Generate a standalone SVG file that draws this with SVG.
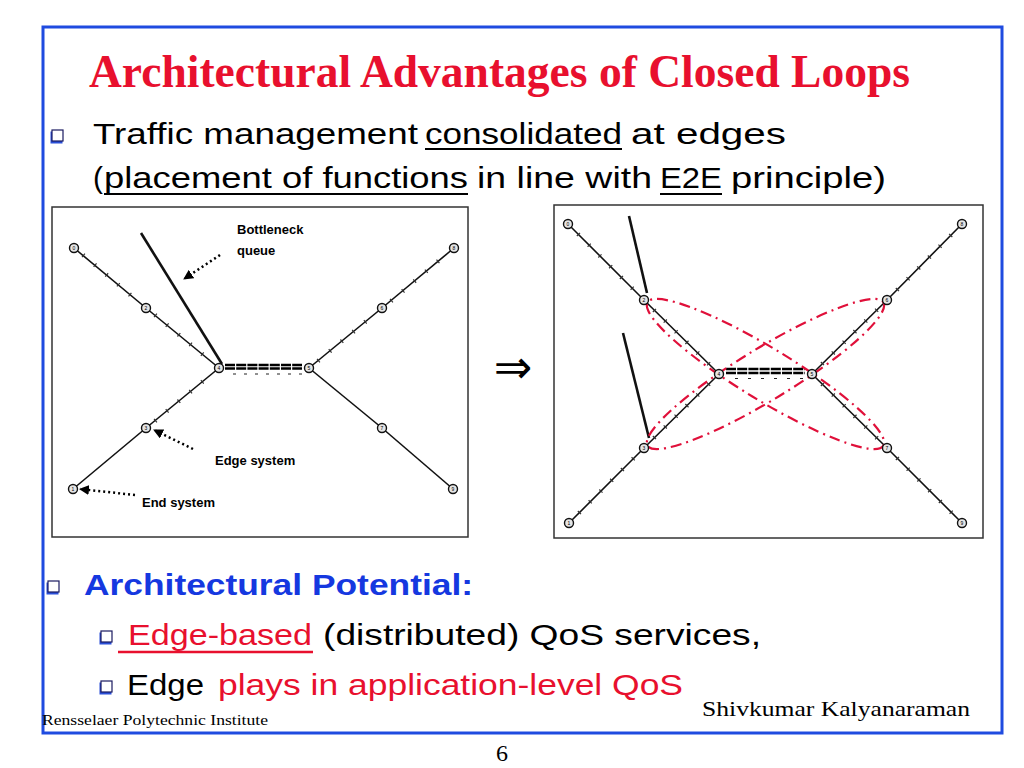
<svg xmlns="http://www.w3.org/2000/svg" width="1024" height="768" viewBox="0 0 1024 768">
<defs>
<style>
.frame{fill:none;stroke:#1F4BE0;stroke-width:3}
.box{fill:#fff;stroke:#333;stroke-width:1.5}
.title{font-family:"Liberation Serif",serif;font-weight:bold;font-size:46px;fill:#E8102E}
.body{font-family:"Liberation Sans","DejaVu Sans",sans-serif;font-size:30px;fill:#000}
.red{fill:#E8102E}
.blue{fill:#1538E0;font-weight:bold}
.ul{stroke:#000;stroke-width:2}
.ulr{stroke:#E8102E;stroke-width:2.5}
.lbl{font-family:"Liberation Sans","DejaVu Sans",sans-serif;font-weight:bold;font-size:13px;fill:#000}
.link{stroke:#111;stroke-width:1.6;fill:none}
.tick{stroke:#333;stroke-width:4.5;stroke-dasharray:1.2 14;fill:none}
.bq{stroke:#111;stroke-width:2.6;fill:none}
.node circle{fill:#e6e6e6;stroke:#111;stroke-width:1.4}
.node text{font-family:"Liberation Sans",sans-serif;font-size:5px;fill:#000;text-anchor:middle}
.dot{stroke:#000;stroke-width:2.5;stroke-dasharray:2 3;fill:none}
.loop{fill:none;stroke:#E0103A;stroke-width:2.2;stroke-dasharray:11 5 2 5}
.dbl{stroke:#000;stroke-width:2.6;stroke-dasharray:10 1.2}
.ser{font-family:"Liberation Serif",serif;fill:#000}
</style>
<marker id="ah" viewBox="0 0 10 10" refX="9" refY="5" markerWidth="4" markerHeight="4" orient="auto">
<path d="M0,0 L10,5 L0,10 z" fill="#000"/>
</marker>
<g id="bul">
<rect x="-1.5" y="1.5" width="12" height="12" fill="#2a4fd8"/>
<rect x="0" y="0" width="11" height="11" fill="#fff" stroke="#1a1a60" stroke-width="1.2"/>
</g>
</defs>
<rect width="1024" height="768" fill="#fff"/>
<rect class="frame" x="43" y="27" width="959" height="706"/>

<text class="title" x="89" y="87" textLength="821" lengthAdjust="spacingAndGlyphs">Architectural Advantages of Closed Loops</text>

<use href="#bul" x="52" y="130"/>
<text class="body" x="93" y="144" textLength="325" lengthAdjust="spacingAndGlyphs">Traffic management</text>
<text class="body" x="425" y="144" textLength="197" lengthAdjust="spacingAndGlyphs">consolidated</text>
<line class="ul" x1="425" y1="149" x2="622" y2="149"/>
<text class="body" x="631" y="144" textLength="155" lengthAdjust="spacingAndGlyphs">at edges</text>
<text class="body" x="93" y="188">(</text>
<text class="body" x="104" y="188" textLength="364" lengthAdjust="spacingAndGlyphs">placement of functions</text>
<line class="ul" x1="104" y1="194" x2="468" y2="194"/>
<text class="body" x="477" y="188" textLength="175" lengthAdjust="spacingAndGlyphs">in line with</text>
<text class="body" x="660" y="188" textLength="62" lengthAdjust="spacingAndGlyphs">E2E</text>
<line class="ul" x1="660" y1="194" x2="722" y2="194"/>
<text class="body" x="731" y="188" textLength="155" lengthAdjust="spacingAndGlyphs">principle)</text>

<g id="left-diagram">
<rect class="box" x="52" y="207" width="416" height="330"/>
<g id="left-connectors">
<line class="link" x1="74" y1="248" x2="146" y2="308"/>
<line class="tick" x1="83" y1="255" x2="140" y2="303"/>
<line class="link" x1="146" y1="308" x2="219" y2="368"/>
<line class="tick" x1="155" y1="315" x2="213" y2="363"/>
<line class="link" x1="146" y1="428" x2="219" y2="368"/>
<line class="tick" x1="155" y1="421" x2="213" y2="373"/>
<line class="link" x1="73" y1="489" x2="146" y2="428"/>
<line class="link" x1="309" y1="368" x2="382" y2="308"/>
<line class="tick" x1="318" y1="361" x2="376" y2="313"/>
<line class="link" x1="382" y1="308" x2="454" y2="248"/>
<line class="tick" x1="391" y1="301" x2="448" y2="253"/>
<line class="link" x1="309" y1="368" x2="382" y2="428"/>
<line class="link" x1="382" y1="428" x2="453" y2="489"/>
<line class="bq" x1="141" y1="233" x2="222" y2="364"/>
<line class="dbl" x1="225" y1="365" x2="302" y2="365"/>
<line class="dbl" x1="225" y1="368.5" x2="302" y2="368.5"/>
<line stroke="#222" stroke-width="1.2" stroke-dasharray="3 8" x1="233" y1="374" x2="302" y2="374" transform="rotate(0)"/>
<line class="dot" x1="220" y1="255" x2="184" y2="279" marker-end="url(#ah)"/>
<line class="dot" x1="193" y1="449" x2="154" y2="430" marker-end="url(#ah)"/>
<line class="dot" x1="135" y1="495" x2="80" y2="489" marker-end="url(#ah)"/>
</g>
<g id="ln0" class="node"><circle cx="74" cy="248" r="4.5"/><text x="74" y="250">0</text></g>
<g id="ln2" class="node"><circle cx="146" cy="308" r="4.5"/><text x="146" y="310">2</text></g>
<g id="ln4" class="node"><circle cx="219" cy="368" r="4.5"/><text x="219" y="370">4</text></g>
<g id="ln5" class="node"><circle cx="309" cy="368" r="4.5"/><text x="309" y="370">5</text></g>
<g id="ln6" class="node"><circle cx="382" cy="308" r="4.5"/><text x="382" y="310">6</text></g>
<g id="ln8" class="node"><circle cx="454" cy="248" r="4.5"/><text x="454" y="250">8</text></g>
<g id="ln3" class="node"><circle cx="146" cy="428" r="4.5"/><text x="146" y="430">3</text></g>
<g id="ln1" class="node"><circle cx="73" cy="489" r="4.5"/><text x="73" y="491">1</text></g>
<g id="ln7" class="node"><circle cx="382" cy="428" r="4.5"/><text x="382" y="430">7</text></g>
<g id="ln9" class="node"><circle cx="453" cy="489" r="4.5"/><text x="453" y="491">9</text></g>
<text class="lbl" x="237" y="234">Bottleneck</text>
<text class="lbl" x="237" y="255">queue</text>
<text class="lbl" x="215" y="465">Edge system</text>
<text class="lbl" x="142" y="507">End system</text>
</g>

<text x="513" y="383" font-family="DejaVu Sans,sans-serif" font-size="46" text-anchor="middle" fill="#000">⇒</text>

<g id="right-diagram">
<rect class="box" x="554" y="205" width="429" height="333"/>
<g id="right-connectors">
<line class="link" x1="568" y1="224" x2="644" y2="300"/>
<line class="tick" x1="578" y1="234" x2="638" y2="294"/>
<line class="link" x1="644" y1="300" x2="719" y2="374"/>
<line class="tick" x1="654" y1="310" x2="713" y2="368"/>
<line class="link" x1="644" y1="448" x2="719" y2="374"/>
<line class="tick" x1="654" y1="438" x2="713" y2="380"/>
<line class="link" x1="569" y1="523" x2="644" y2="448"/>
<line class="tick" x1="579" y1="513" x2="638" y2="454"/>
<line class="link" x1="812" y1="374" x2="887" y2="300"/>
<line class="tick" x1="822" y1="364" x2="881" y2="306"/>
<line class="link" x1="887" y1="300" x2="962" y2="224"/>
<line class="tick" x1="897" y1="290" x2="956" y2="230"/>
<line class="link" x1="812" y1="374" x2="887" y2="448"/>
<line class="tick" x1="822" y1="384" x2="881" y2="442"/>
<line class="link" x1="887" y1="448" x2="962" y2="523"/>
<line class="tick" x1="897" y1="458" x2="956" y2="517"/>
<line class="bq" x1="629" y1="216" x2="647" y2="293"/>
<line class="bq" x1="623" y1="333" x2="649" y2="438"/>
<line class="dbl" stroke-width="3.2" x1="726" y1="369" x2="805" y2="369"/>
<line class="dbl" stroke-width="3.2" x1="726" y1="373" x2="805" y2="373"/>
<line stroke="#222" stroke-width="1.2" stroke-dasharray="3 10" x1="735" y1="378.5" x2="805" y2="378.5"/>
<ellipse class="loop" cx="765.5" cy="374" rx="138" ry="26" transform="rotate(31.3 765.5 374)"/>
<ellipse class="loop" cx="765.5" cy="374" rx="138" ry="26" transform="rotate(-31.3 765.5 374)"/>
</g>
<g id="rn0" class="node"><circle cx="568" cy="224" r="4.5"/><text x="568" y="226">0</text></g>
<g id="rn2" class="node"><circle cx="644" cy="300" r="4.5"/><text x="644" y="302">2</text></g>
<g id="rn4" class="node"><circle cx="719" cy="374" r="4.5"/><text x="719" y="376">4</text></g>
<g id="rn5" class="node"><circle cx="812" cy="374" r="4.5"/><text x="812" y="376">5</text></g>
<g id="rn6" class="node"><circle cx="887" cy="300" r="4.5"/><text x="887" y="302">6</text></g>
<g id="rn8" class="node"><circle cx="962" cy="224" r="4.5"/><text x="962" y="226">8</text></g>
<g id="rn3" class="node"><circle cx="644" cy="448" r="4.5"/><text x="644" y="450">3</text></g>
<g id="rn1" class="node"><circle cx="569" cy="523" r="4.5"/><text x="569" y="525">1</text></g>
<g id="rn7" class="node"><circle cx="887" cy="448" r="4.5"/><text x="887" y="450">7</text></g>
<g id="rn9" class="node"><circle cx="962" cy="523" r="4.5"/><text x="962" y="525">9</text></g>
</g>

<use href="#bul" x="48" y="581"/>
<text class="body blue" x="84" y="595" textLength="389" lengthAdjust="spacingAndGlyphs">Architectural Potential:</text>
<use href="#bul" x="101" y="631"/>
<text class="body red" x="128" y="645" textLength="184" lengthAdjust="spacingAndGlyphs">Edge-based</text>
<line class="ulr" x1="118" y1="652" x2="313" y2="652"/>
<text class="body" x="323" y="645" textLength="438" lengthAdjust="spacingAndGlyphs">(distributed) QoS services,</text>
<use href="#bul" x="101" y="681"/>
<text class="body" x="127" y="695" textLength="77" lengthAdjust="spacingAndGlyphs">Edge</text>
<text class="body red" x="218" y="695" textLength="465" lengthAdjust="spacingAndGlyphs">plays in application-level QoS</text>

<text class="ser" x="42" y="725" font-size="14" textLength="226" lengthAdjust="spacingAndGlyphs">Rensselaer Polytechnic Institute</text>
<text class="ser" x="702" y="716" font-size="22" textLength="268" lengthAdjust="spacingAndGlyphs">Shivkumar Kalyanaraman</text>
<text class="ser" x="502" y="761" font-size="24" text-anchor="middle">6</text>
</svg>
